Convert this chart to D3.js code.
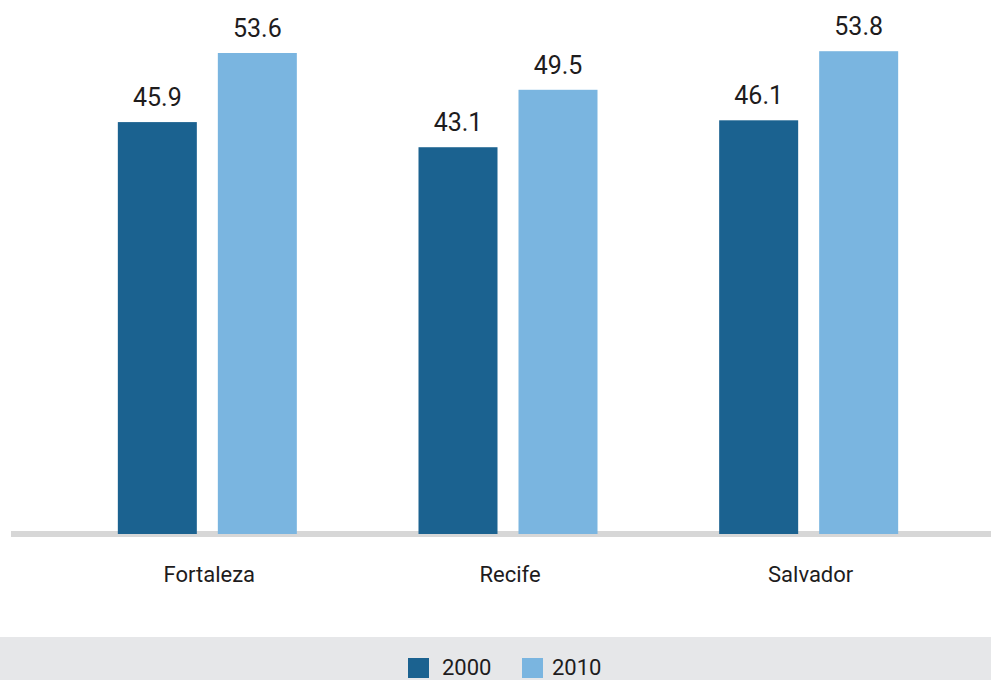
<!DOCTYPE html>
<html><head><meta charset="utf-8">
<script src="https://cdn.jsdelivr.net/npm/d3@7"></script>
<style>body{margin:0;background:#fff}svg{display:block}text{font-family:Roboto,"Open Sans",sans-serif;fill:#1e1c1d}</style>
</head><body><svg id="c" width="991" height="680"></svg>
<script>
const categories = ["Fortaleza","Recife","Salvador"];
const seriesNames = ["2000","2010"];
const values2000 = [45.9,43.1,46.1];
const values2010 = [53.6,49.5,53.8];
const colors = ["#1b6290","#7ab5e0"];

const svg = d3.select("#c");
const baseY = 534;
const y = d3.scaleLinear().domain([0,53.6]).range([baseY,53]);
const x0 = d3.scaleBand().domain(categories).range([57,959]).padding(0);
const x1 = d3.scaleBand().domain(seriesNames).range([0,179]).paddingInner(0.21);
const data = categories.map((c,i)=>({c, vals:[values2000[i],values2010[i]]}));

// baseline
svg.append("rect").attr("x",11).attr("y",531).attr("width",980).attr("height",6).attr("fill","#d7d7d7");

const g = svg.selectAll("g.cat").data(data).join("g").attr("class","cat")
  .attr("transform",d=>`translate(${x0(d.c)+x0.bandwidth()/2-89.5},0)`);
g.selectAll("rect").data(d=>d.vals.map((v,j)=>({s:seriesNames[j],v,j}))).join("rect")
  .attr("x",d=>x1(d.s)).attr("width",x1.bandwidth())
  .attr("y",d=>y(d.v)).attr("height",d=>y(0)-y(d.v)).attr("fill",d=>colors[d.j]);
g.selectAll("text.v").data(d=>d.vals.map((v,j)=>({s:seriesNames[j],v,j}))).join("text").attr("class","v")
  .attr("x",d=>x1(d.s)+x1.bandwidth()/2).attr("y",d=>y(d.v)-16)
  .attr("text-anchor","middle").style("font-size","25px").text(d=>d.v.toFixed(1));

// category labels
svg.selectAll("text.cat").data(categories).join("text").attr("class","cat")
  .attr("x",d=>x0(d)+x0.bandwidth()/2+2).attr("y",582)
  .attr("text-anchor","middle").style("font-size","22px").text(d=>d);

// legend band
svg.append("rect").attr("x",0).attr("y",637).attr("width",991).attr("height",43).attr("fill","#e6e7e9");
const legX = [408,522];
const lg = svg.selectAll("g.leg").data(seriesNames).join("g").attr("class","leg")
  .attr("transform",(d,i)=>`translate(${legX[i]},0)`);
lg.append("rect").attr("x",0).attr("y",658).attr("width",21).attr("height",20).attr("fill",(d,i)=>colors[i]);
lg.append("text").attr("x",(d,i)=>i===0?34:30).attr("y",675).style("font-size","22px").text(d=>d);
</script></body></html>
